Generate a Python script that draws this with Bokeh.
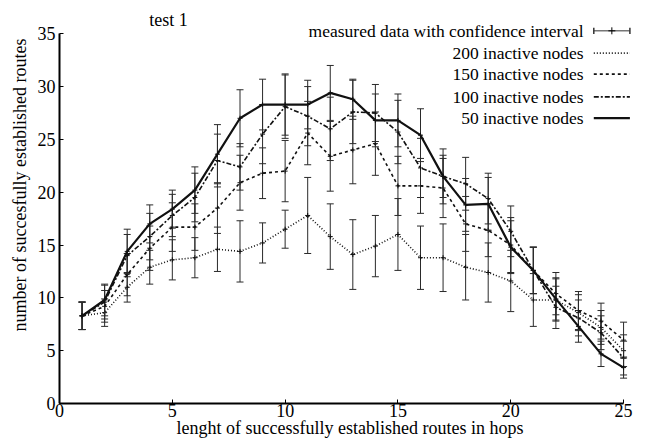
from bokeh.plotting import figure
from bokeh.models import Range1d, FixedTicker, Label, Title
from bokeh.embed import file_html
from bokeh.resources import INLINE

# ---- data ----
hops = list(range(1, 26))
n50 = [8.3, 9.8, 14.4, 17.0, 18.4, 20.2, 23.6, 27.0, 28.3, 28.3, 28.3, 29.4, 28.8,
       26.8, 26.8, 25.4, 21.5, 18.8, 18.9, 14.8, 12.6, 9.9, 7.3, 4.7, 3.4]
n100 = [8.3, 9.6, 14.0, 15.8, 17.8, 19.5, 23.0, 22.4, 25.5, 28.1, 27.2, 26.0, 27.6,
        27.5, 25.7, 22.3, 21.5, 20.8, 19.4, 16.3, 12.6, 9.1, 8.1, 6.7, 4.3]
n150 = [8.3, 9.2, 12.2, 14.7, 16.7, 16.7, 18.5, 20.9, 21.8, 22.0, 25.6, 23.4, 24.0,
        24.6, 20.6, 20.6, 20.4, 17.0, 16.4, 15.0, 12.6, 10.4, 8.8, 7.8, 6.0]
n200 = [8.3, 8.6, 11.0, 12.9, 13.6, 13.8, 14.6, 14.4, 15.2, 16.5, 17.8, 15.8, 14.1,
        14.9, 16.0, 13.8, 13.8, 12.9, 12.4, 11.6, 9.8, 9.8, 8.6, 7.2, 5.0]
# confidence interval half-widths
e50 = [1.3, 1.5, 2.1, 1.8, 1.8, 2.2, 2.8, 2.7, 2.4, 2.9, 2.3, 2.6, 1.9,
       2.5, 2.5, 2.5, 2.0, 2.5, 2.5, 2.5, 2.2, 2.0, 1.5, 1.2, 1.0]
e100 = [1.3, 1.6, 2.0, 2.2, 2.0, 2.3, 2.5, 2.2, 2.8, 3.0, 2.8, 3.0, 3.0,
        2.7, 3.0, 2.8, 2.6, 2.5, 2.4, 2.4, 2.2, 2.0, 1.7, 1.6, 1.6]
e150 = [1.3, 1.5, 2.0, 2.1, 2.3, 2.2, 2.4, 2.6, 2.4, 2.9, 3.0, 3.3, 3.2,
        3.0, 2.8, 2.6, 2.8, 2.6, 2.5, 2.6, 2.2, 2.0, 1.8, 1.7, 1.7]
e200 = [1.3, 1.3, 1.4, 1.6, 1.9, 1.9, 2.1, 2.9, 1.9, 1.8, 3.6, 3.1, 3.3,
        2.9, 3.4, 3.0, 3.2, 3.1, 2.8, 2.9, 2.5, 2.0, 1.7, 1.6, 1.5]
x_ticks = [0, 5, 10, 15, 20, 25]
y_ticks = [0, 5, 10, 15, 20, 25, 30, 35]

title_text = "test 1"
x_label = "lenght of successfully established routes in hops"
y_label = "number of succesfully established routes"
legend_labels = ["measured data with confidence interval", "200 inactive nodes",
                 "150 inactive nodes", "100 inactive nodes", "50 inactive nodes"]

FONT = "Liberation Serif"

p = figure(width=655, height=441, x_range=Range1d(0, 25.75), y_range=Range1d(0, 38.15),
           output_backend="svg", toolbar_location=None,
           min_border_left=59, min_border_right=15, min_border_top=0, min_border_bottom=38)
p.outline_line_color = None
p.grid.visible = False
p.background_fill_color = "white"

for ax, ticks, bnds in ((p.xaxis[0], x_ticks, (0, 25)), (p.yaxis[0], y_ticks, (0, 35))):
    ax.ticker = FixedTicker(ticks=ticks)
    ax.bounds = bnds
    ax.major_tick_in = 4
    ax.major_tick_out = 0
    ax.minor_tick_line_color = None
    ax.axis_line_width = 2
    ax.axis_line_color = "black"
    ax.major_tick_line_color = "black"
    ax.major_label_text_font = FONT
    ax.major_label_text_font_size = "18px"
    ax.major_label_text_color = "black"
p.xaxis.major_label_standoff = 0
p.yaxis.major_label_standoff = 4
p.xaxis.axis_label = x_label
p.xaxis.axis_label_standoff = -2
p.xaxis.axis_label_text_font = FONT
p.xaxis.axis_label_text_font_size = "18px"
p.xaxis.axis_label_text_font_style = "normal"
p.xaxis.axis_label_text_color = "black"

# y-axis label as a side title, anchored near the top like the reference
p.add_layout(Title(text=y_label, align="right", offset=38, standoff=10, vertical_align="bottom",
                   text_font=FONT, text_font_size="18px", text_font_style="normal",
                   text_color="black"), "left")

# error bars
series = [(n200, e200), (n150, e150), (n100, e100), (n50, e50)]
for ys, es in series:
    lo = [y - e for y, e in zip(ys, es)]
    hi = [y + e for y, e in zip(ys, es)]
    p.segment(hops, lo, hops, hi, line_color="#2a2a2a", line_width=1)
    p.scatter(hops, lo, marker="dash", size=7, line_color="#2a2a2a", line_width=1)
    p.scatter(hops, hi, marker="dash", size=7, line_color="#2a2a2a", line_width=1)
    p.scatter(hops, ys, marker="cross", size=5, line_color="#111111", line_width=1)

styles = {
    "200": dict(line_dash="1 2", line_width=1.6),
    "150": dict(line_dash="3 3", line_width=1.6),
    "100": dict(line_dash="5 2 2 2", line_width=1.6),
    "50": dict(line_dash="solid", line_width=2.2),
}
p.line(hops, n200, line_color="#111111", **styles["200"])
p.line(hops, n150, line_color="#111111", **styles["150"])
p.line(hops, n100, line_color="#111111", **styles["100"])
p.line(hops, n50, line_color="#111111", **styles["50"])

# manual legend (text right aligned, sample to the right)
row_y = [35.28, 33.17, 31.18, 29.03, 27.02]
tx, sx0, sx1 = 23.23, 23.68, 25.28
for lab, yy in zip(legend_labels, row_y):
    p.add_layout(Label(x=tx, y=yy, text=lab, text_align="right", text_baseline="middle",
                       text_font=FONT, text_font_size="17.5px", text_color="black"))
# sample 0: error bar symbol
p.segment([sx0], [row_y[0]], [sx1], [row_y[0]], line_color="#777777", line_width=1.5)
p.segment([sx0, sx1], [row_y[0] - 0.3, row_y[0] - 0.3], [sx0, sx1], [row_y[0] + 0.3, row_y[0] + 0.3],
          line_color="#333333", line_width=1.5)
p.scatter([(sx0 + sx1) / 2], [row_y[0]], marker="cross", size=7, line_color="black", line_width=1)
for key, yy in zip(["200", "150", "100", "50"], row_y[1:]):
    p.line([sx0, sx1], [yy, yy], line_color="#111111", **styles[key])

# chart title (inside the frame area, as in the reference)
p.add_layout(Label(x=4.83, y=36.33, text=title_text, text_align="center", text_baseline="alphabetic",
                   text_font=FONT, text_font_size="18px", text_color="black"))

open("out.html", "w").write(file_html(p, INLINE))
